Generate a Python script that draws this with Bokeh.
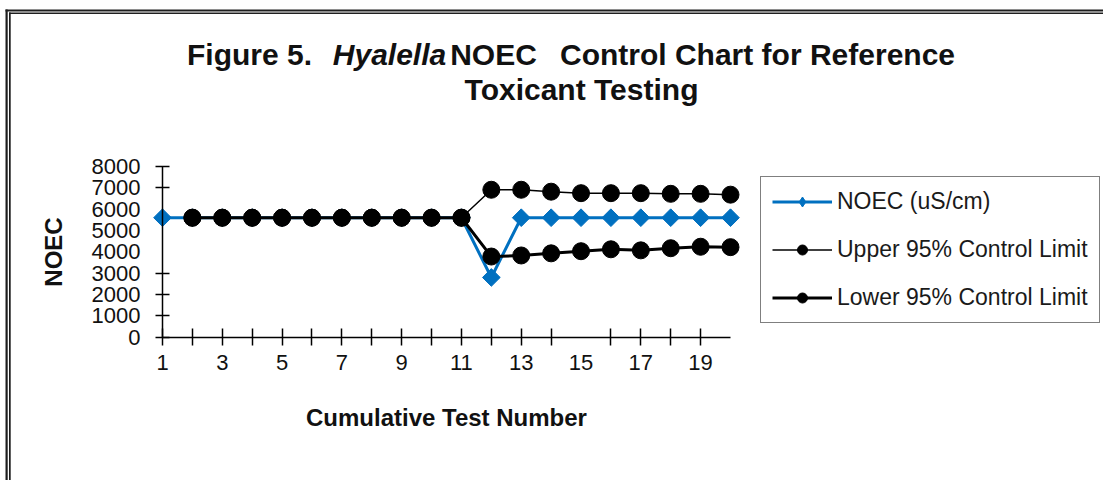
from bokeh.plotting import figure
from bokeh.models import Range1d, FixedTicker, Label, Legend, LegendItem, BoxAnnotation
from bokeh.embed import file_html
from bokeh.resources import INLINE

# ---------------- data ----------------
test_number = [1, 2, 3, 4, 5, 6, 7, 8, 9, 10, 11, 12, 13, 14, 15, 16, 17, 18, 19, 20]
noec = [5600, 5600, 5600, 5600, 5600, 5600, 5600, 5600, 5600, 5600,
        5600, 2800, 5600, 5600, 5600, 5600, 5600, 5600, 5600, 5600]

limit_test_number = [2, 3, 4, 5, 6, 7, 8, 9, 10, 11, 12, 13, 14, 15, 16, 17, 18, 19, 20]
upper_limit = [5600, 5600, 5600, 5600, 5600, 5600, 5600, 5600, 5600, 5600,
               6910, 6910, 6820, 6750, 6750, 6750, 6720, 6720, 6680]
lower_limit = [5600, 5600, 5600, 5600, 5600, 5600, 5600, 5600, 5600, 5600,
               3780, 3830, 3930, 4030, 4120, 4070, 4170, 4240, 4220]

x_label_ticks = [1, 3, 5, 7, 9, 11, 13, 15, 17, 19]
x_mark_ticks = [1, 2, 3, 4, 5, 6, 7, 8, 9, 10, 11, 12, 13, 14, 16, 17, 18, 19]
y_label_ticks = [0, 1000, 2000, 3000, 4000, 5000, 6000, 7000, 8000]
y_mark_ticks = [0, 1000, 2000, 3000, 7000, 8000]

series_names = ["NOEC (uS/cm)", "Upper 95% Control Limit", "Lower 95% Control Limit"]
title_parts = ["Figure 5.", "Hyalella", "NOEC", "Control Chart for Reference", "Toxicant Testing"]
x_title = "Cumulative Test Number"
y_title = "NOEC"

# ---------------- layout (pixels on the page) ----------------
W, H = 1103, 480
PX_FIRST, PX_LAST = 162.0, 730.0      # x pixel of first / last test
PY_ZERO, PY_TOP = 336.7, 166.0        # y pixel of 0 / top of the axis
FONT = "Liberation Sans"
BLUE = "#0070C0"
TXT = "#111111"

x_first, x_last = test_number[0], test_number[-1]
y_bottom, y_top = y_label_ticks[0], y_label_ticks[-1]
sx = (PX_LAST - PX_FIRST) / (x_last - x_first)
sy = (PY_ZERO - PY_TOP) / (y_top - y_bottom)
X0 = x_first - PX_FIRST / sx
X1 = x_last + (W - PX_LAST) / sx
Y1 = y_top + PY_TOP / sy
Y0 = y_bottom - (H - PY_ZERO) / sy

def px_x(px):
    return X0 + px / sx

def px_y(py):
    return Y1 - py / sy

p = figure(width=W, height=H, output_backend="svg", toolbar_location=None,
           x_range=Range1d(X0, X1), y_range=Range1d(Y0, Y1),
           min_border=0, background_fill_color="white", border_fill_color="white")
p.title.visible = False
p.outline_line_color = None
p.grid.visible = False

# chart border (double line, drawn as thin filled bars)
def bar(l, t, r, b):
    p.add_layout(BoxAnnotation(left=px_x(l), top=px_y(t), right=px_x(r), bottom=px_y(b),
                               fill_color="#1e1e1e", fill_alpha=1, line_alpha=0,
                               level="underlay"))

bar(5, 9, 7.2, H + 20)        # outer left
bar(5, 9, W + 20, 11)         # outer top
bar(8.5, 12, 10.2, H + 20)    # inner left
bar(8.5, 12, W + 20, 13.4)    # inner top

# x axis
xa = p.xaxis[0]
xa.fixed_location = y_bottom
xa.bounds = (x_first, x_last)
xa.ticker = FixedTicker(ticks=x_label_ticks, minor_ticks=x_mark_ticks)
xa.major_tick_line_color = None
xa.major_tick_out = 8
xa.minor_tick_line_color = "black"
xa.minor_tick_line_width = 1.5
xa.minor_tick_in = 9
xa.minor_tick_out = 8
xa.axis_line_color = "black"
xa.axis_line_width = 1.5
xa.major_label_standoff = 10
xa.major_label_text_font = FONT
xa.major_label_text_font_size = "22px"
xa.major_label_text_color = TXT
xa.axis_label = x_title
xa.axis_label_text_font = FONT
xa.axis_label_text_font_style = "bold"
xa.axis_label_text_font_size = "24px"
xa.axis_label_text_color = TXT
xa.axis_label_standoff = 30

# y axis
ya = p.yaxis[0]
ya.fixed_location = x_first
ya.bounds = (y_bottom, y_top)
ya.ticker = FixedTicker(ticks=y_label_ticks, minor_ticks=y_mark_ticks)
ya.major_tick_line_color = None
ya.major_tick_out = 7
ya.minor_tick_line_color = "black"
ya.minor_tick_line_width = 1.5
ya.minor_tick_in = 7
ya.minor_tick_out = 7
ya.axis_line_color = "black"
ya.axis_line_width = 1.5
ya.major_label_standoff = 15
ya.major_label_text_font = FONT
ya.major_label_text_font_size = "22px"
ya.major_label_text_color = TXT
ya.axis_label = y_title
ya.axis_label_text_font = FONT
ya.axis_label_text_font_style = "bold"
ya.axis_label_text_font_size = "24px"
ya.axis_label_text_color = TXT
ya.axis_label_standoff = 22

# series
l1 = p.line(test_number, noec, line_color=BLUE, line_width=3)
# diamond key for the legend; it sits under the first NOEC point and is hidden by it
key1 = p.scatter(test_number[:1], noec[:1], marker="diamond", size=13,
                 fill_color=BLUE, line_color=BLUE)
s1 = p.scatter(test_number, noec, marker="square", angle=0.785398, size=12.5,
               fill_color=BLUE, line_color=BLUE)
l2 = p.line(limit_test_number, upper_limit, line_color="black", line_width=1.5)
s2 = p.scatter(limit_test_number, upper_limit, marker="circle", size=17,
               fill_color="black", line_color="black")
l3 = p.line(limit_test_number, lower_limit, line_color="black", line_width=3)
s3 = p.scatter(limit_test_number, lower_limit, marker="circle", size=17,
               fill_color="black", line_color="black")

legend = Legend(items=[LegendItem(label=series_names[0], renderers=[l1, key1]),
                       LegendItem(label=series_names[1], renderers=[l2, s2]),
                       LegendItem(label=series_names[2], renderers=[l3, s3])],
                location=(760, H - 323), orientation="vertical", margin=0,
                border_line_color="black", border_line_width=1.5,
                background_fill_color="white", background_fill_alpha=1,
                padding=11, spacing=21, label_height=25, glyph_height=25,
                glyph_width=60, label_standoff=5,
                label_text_font=FONT, label_text_font_size="23px",
                label_text_color="#1a1a1a")
p.add_layout(legend, "center")

# title (screen pixels: x from the left, y from the bottom)
def title_label(text, x, baseline, align, style):
    p.add_layout(Label(x=x, y=H - baseline, x_units="screen", y_units="screen",
                       text=text, text_align=align, text_baseline="alphabetic",
                       text_font=FONT, text_font_style=style,
                       text_font_size="30px", text_color=TXT))

title_label(title_parts[0], 249, 54, "center", "bold")
title_label(title_parts[1], 389, 54, "center", "bold italic")
title_label(title_parts[2], 493, 54, "center", "bold")
title_label(title_parts[3], 757, 54, "center", "bold")
title_label(title_parts[4], 581, 89, "center", "bold")

open("out.html", "w").write(file_html(p, INLINE))
